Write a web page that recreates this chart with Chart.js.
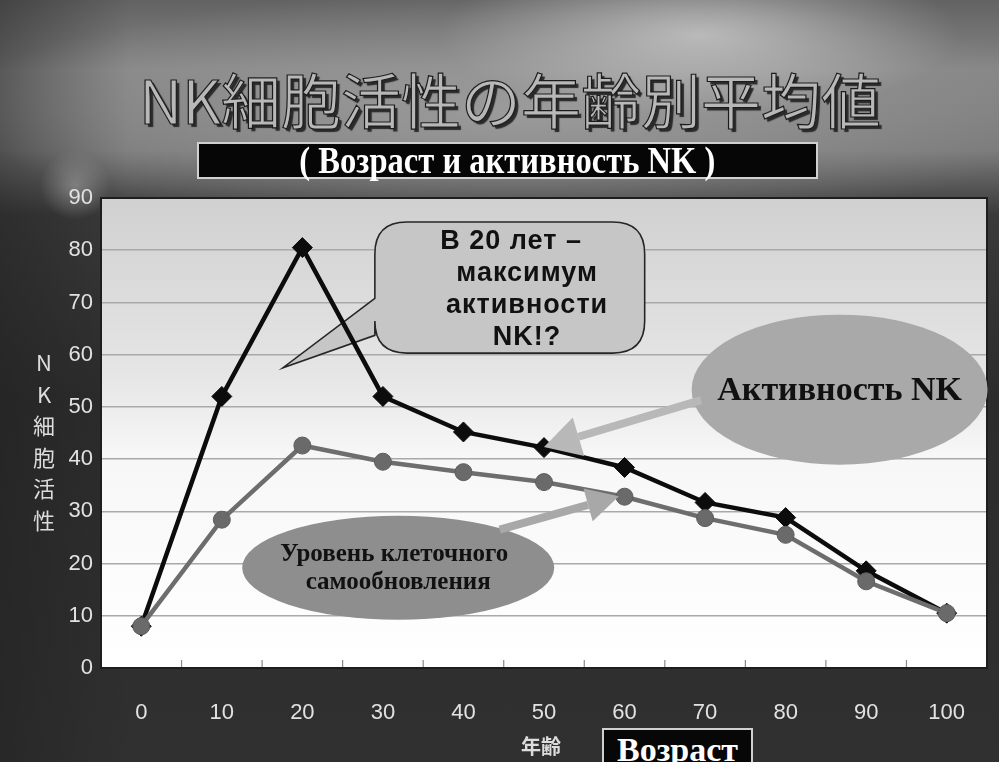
<!DOCTYPE html>
<html>
<head>
<meta charset="utf-8">
<script src="https://cdn.jsdelivr.net/npm/chart.js@4.4.1/dist/chart.umd.min.js"></script>
<style>
  html, body { margin:0; padding:0; }
  body {
    width:999px; height:762px; overflow:hidden; position:relative;
    background:
      radial-gradient(ellipse 260px 80px at 700px 35px, rgba(205,205,205,0.75), rgba(205,205,205,0) 100%),
      radial-gradient(ellipse 560px 120px at 520px 110px, rgba(160,160,160,0.85), rgba(160,160,160,0) 100%),
      radial-gradient(ellipse 35px 35px at 75px 185px, rgba(160,160,160,0.6), rgba(160,160,160,0) 100%),
      linear-gradient(to right, rgba(30,30,30,0.45) 0px, rgba(30,30,30,0) 130px),
      linear-gradient(to bottom, #626262 0px, #868686 70px, #7a7a7a 150px, #3a3a3a 215px, #2c2c2c 400px, #303030 762px);
  }
  #wrap { position:absolute; left:0; top:0; width:999px; height:762px; }
  .t { position:absolute; white-space:nowrap; }
  #title {
    left:0; width:1020px; text-align:center; top:58px;
    font-family:"Noto Sans CJK JP", sans-serif; font-size:60px; line-height:80px; font-weight:400;
    color:#b8b8b8; -webkit-text-stroke:1.2px #1c1c1c;
    text-shadow: 3px 3px 1px #2a2a2a;
  }
  #subtitle {
    left:197px; top:142px; width:617px; height:33px; background:#060606; border:2px solid #d0d0d0;
    color:#fff; text-align:center; font-family:"Liberation Serif", serif; font-weight:bold; font-size:37px; line-height:33px;
  }
  #subtitle span { display:inline-block; transform:scaleX(0.88); }
  #ytitle {
    left:30px; top:346px; width:28px; text-align:center;
    font-family:"Noto Sans CJK JP", sans-serif; font-size:22px; line-height:31.6px; color:#dcdcdc;
  }
  #xtitle {
    left:521px; top:731px; font-family:"Noto Sans CJK JP", sans-serif; font-size:20px; font-weight:bold; line-height:30px; color:#dcdcdc;
  }
  #xbox {
    left:602px; top:728px; width:147px; height:40px; background:#070707; border:2px solid #d0d0d0;
    color:#fff; text-align:center; font-family:"Liberation Serif", serif; font-weight:bold; font-size:34px; line-height:40px;
  }
</style>
</head>
<body>
<div id="wrap"><canvas id="c" width="999" height="762"></canvas></div>
<div class="t" id="title">NK細胞活性の年齢別平均値</div>
<div class="t" id="subtitle"><span>( Возраст и активность NK )</span></div>
<div class="t" id="ytitle">N<br>K<br>細<br>胞<br>活<br>性</div>
<div class="t" id="xtitle">年齢</div>
<div class="t" id="xbox">Возраст</div>
<script>
// ---- data ----
const ages = ['0','10','20','30','40','50','60','70','80','90','100'];
const nkActivity  = [8, 52, 80.5, 52, 45.2, 42.2, 38.4, 31.7, 28.8, 18.6, 10.5];
const cellRenewal = [8, 28.4, 42.6, 39.5, 37.5, 35.6, 32.8, 28.7, 25.5, 16.6, 10.5];
const yMin = 0, yMax = 90, yStep = 10;
const calloutLines = ['В 20 лет –', 'максимум', 'активности', 'NK!?'];
const nkLabel = 'Активность NK';
const renewalLines = ['Уровень клеточного', 'самообновления'];

function arrow(ctx, x1, y1, x2, y2, color, w, headLen, headHalf) {
  const a = Math.atan2(y2 - y1, x2 - x1);
  const bx = x2 - headLen * Math.cos(a), by = y2 - headLen * Math.sin(a);
  ctx.save();
  ctx.strokeStyle = color; ctx.fillStyle = color; ctx.lineWidth = w; ctx.lineCap = 'butt';
  ctx.beginPath(); ctx.moveTo(x1, y1); ctx.lineTo(bx, by); ctx.stroke();
  ctx.beginPath();
  ctx.moveTo(x2, y2);
  ctx.lineTo(bx + headHalf * Math.sin(a), by - headHalf * Math.cos(a));
  ctx.lineTo(bx - headHalf * Math.sin(a), by + headHalf * Math.cos(a));
  ctx.closePath(); ctx.fill();
  ctx.restore();
}

const decor = {
  id: 'decor',
  beforeDraw(chart) {
    const { ctx, chartArea: a } = chart;
    ctx.save();
    const g = ctx.createLinearGradient(0, a.top, 0, a.bottom);
    g.addColorStop(0, '#d0d0d0');
    g.addColorStop(0.28, '#e0e0e0');
    g.addColorStop(0.38, '#e6e6e6');
    g.addColorStop(0.55, '#f7f7f7');
    g.addColorStop(1, '#ffffff');
    ctx.fillStyle = g;
    ctx.fillRect(a.left, a.top, a.right - a.left, a.bottom - a.top);
    ctx.restore();
  },
  beforeDatasetsDraw(chart) {
    const { ctx, chartArea: a, scales: { x, y } } = chart;
    const px = i => x.getPixelForValue(i), py = v => y.getPixelForValue(v);
    ctx.save();
    ctx.strokeStyle = '#8a8a8a'; ctx.lineWidth = 1.2;
    for (let i = 0; i < ages.length - 1; i++) {
      const xx = (px(i) + px(i + 1)) / 2;
      ctx.beginPath(); ctx.moveTo(xx, a.bottom); ctx.lineTo(xx, a.bottom - 8); ctx.stroke();
    }
    ctx.strokeStyle = '#1e1e1e'; ctx.lineWidth = 2;
    ctx.strokeRect(a.left, a.top, a.right - a.left, a.bottom - a.top);

    // callout bubble
    const L = px(2.9), R = px(6.25), T = py(85.4), B = py(60.3), r = 32;
    const tipX = px(1.76), tipY = py(57.5), tb1 = py(70.8), tb2 = py(63.7);
    ctx.beginPath();
    ctx.moveTo(L + r, T);
    ctx.lineTo(R - r, T);
    ctx.quadraticCurveTo(R, T, R, T + r);
    ctx.lineTo(R, B - r);
    ctx.quadraticCurveTo(R, B, R - r, B);
    ctx.lineTo(L + r, B);
    ctx.quadraticCurveTo(L, B, L, B - r);
    ctx.lineTo(L, tb2);
    ctx.lineTo(tipX, tipY);
    ctx.lineTo(L, tb1);
    ctx.lineTo(L, T + r);
    ctx.quadraticCurveTo(L, T, L + r, T);
    ctx.closePath();
    ctx.fillStyle = '#c6c6c6'; ctx.fill();
    ctx.strokeStyle = '#262626'; ctx.lineWidth = 1.6; ctx.stroke();
    ctx.fillStyle = '#111';
    ctx.font = 'bold 27px "Liberation Sans", Arial, sans-serif';
    ctx.letterSpacing = '1px';
    ctx.textAlign = 'center'; ctx.textBaseline = 'middle';
    const cx = px(4.79);
    calloutLines.forEach((s, k) => ctx.fillText(s, cx - (k === 0 ? 16 : 0), py(81.7) + k * 32));
    ctx.letterSpacing = '0px';

    // ellipse: NK activity
    ctx.beginPath();
    ctx.ellipse(px(8.67), py(53.3), 148, 75, 0, 0, Math.PI * 2);
    ctx.fillStyle = '#a9a9a9'; ctx.fill();
    ctx.fillStyle = '#111';
    ctx.font = 'bold 34px "Liberation Serif", "Times New Roman", serif';
    ctx.fillText(nkLabel, px(8.67), py(53.3) + 2);

    // ellipse: renewal
    ctx.beginPath();
    ctx.ellipse(px(3.19), py(19.2), 156, 52, 0, 0, Math.PI * 2);
    ctx.fillStyle = '#8e8e8e'; ctx.fill();
    ctx.fillStyle = '#111';
    ctx.font = 'bold 25px "Liberation Serif", "Times New Roman", serif';
    ctx.fillText(renewalLines[0], px(3.19) - 4, py(19.2) - 13);
    ctx.fillText(renewalLines[1], px(3.19), py(19.2) + 15);
    ctx.restore();
  },
  afterDatasetsDraw(chart) {
    const { ctx, scales: { x, y } } = chart;
    const px = i => x.getPixelForValue(i), py = v => y.getPixelForValue(v);
    arrow(ctx, px(6.95), py(51.3), px(5.0), py(42.3), '#b8b8b8', 8, 36, 20);
    arrow(ctx, px(4.45), py(26.5), px(5.93), py(32.9), '#a8a8a8', 8, 32, 17);
  }
};

new Chart(document.getElementById('c'), {
  type: 'line',
  data: {
    labels: ages,
    datasets: [
      {
        label: 'Уровень клеточного самообновления',
        data: cellRenewal,
        borderColor: '#6d6d6d', backgroundColor: '#6d6d6d',
        borderWidth: 4.5, pointStyle: 'circle', pointRadius: 8.5,
        pointBackgroundColor: '#6a6a6a', pointBorderColor: '#5e5e5e', pointBorderWidth: 1,
        tension: 0
      },
      {
        label: 'Активность NK',
        data: nkActivity,
        borderColor: '#0c0c0c', backgroundColor: '#0c0c0c',
        borderWidth: 4.5, pointStyle: 'rectRot', pointRadius: 10,
        pointBackgroundColor: '#0c0c0c', pointBorderColor: '#0c0c0c', pointBorderWidth: 1,
        tension: 0
      }
    ]
  },
  options: {
    responsive: false, animation: false, events: [],
    layout: { padding: { left: 0, top: 198, right: 12, bottom: 0 } },
    plugins: { legend: { display: false }, tooltip: { enabled: false }, title: { display: false } },
    scales: {
      x: {
        type: 'category', offset: true,
        grid: { display: false, drawTicks: false },
        border: { display: false },
        ticks: { color: '#e2e2e2', font: { family: '"Liberation Sans", Arial, sans-serif', size: 22 }, padding: 32, maxRotation: 0 },
        afterFit: s => { s.height = 94; }
      },
      y: {
        min: yMin, max: yMax,
        grid: { color: '#a9a9a9', lineWidth: 1.5, drawTicks: false },
        border: { display: false },
        ticks: { stepSize: yStep, color: '#e2e2e2', font: { family: '"Liberation Sans", Arial, sans-serif', size: 22 }, padding: 8 },
        afterFit: s => { s.width = 101; }
      }
    }
  },
  plugins: [decor]
});
</script>
</body>
</html>
